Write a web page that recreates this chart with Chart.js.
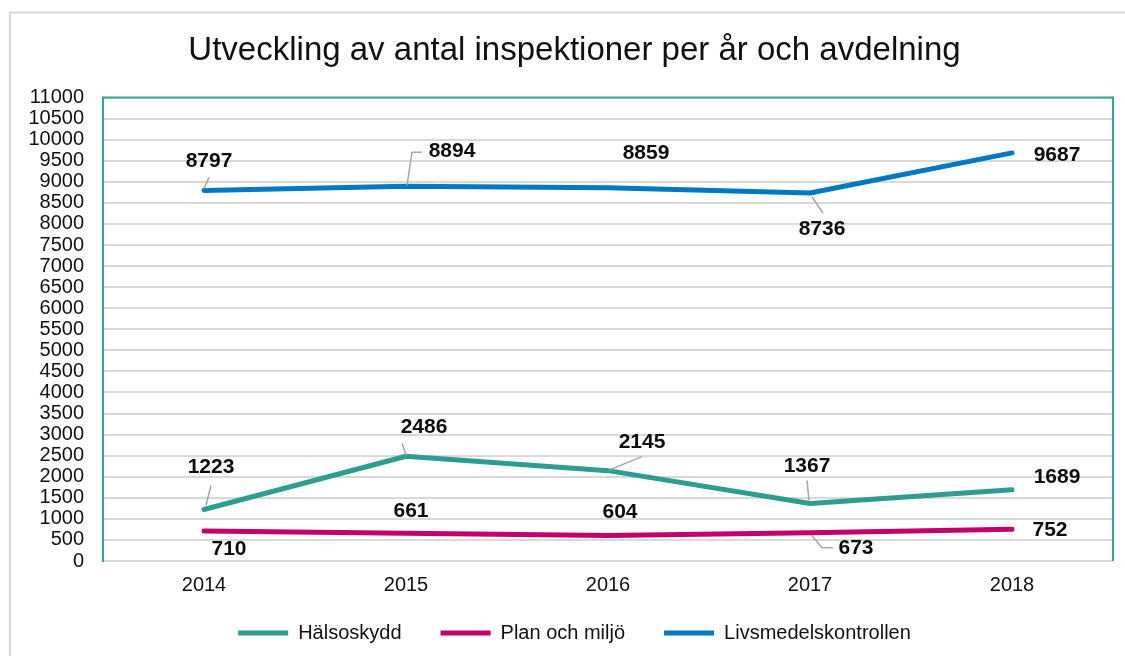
<!DOCTYPE html>
<html lang="sv">
<head>
<meta charset="utf-8">
<title>Utveckling av antal inspektioner per år och avdelning</title>
<script src="https://cdn.jsdelivr.net/npm/chart.js@4.4.1/dist/chart.umd.min.js"></script>
<style>
  html, body { margin: 0; padding: 0; background: #ffffff; }
  canvas { display: block; }
</style>
</head>
<body>
<canvas id="chart" width="1125" height="656"></canvas>
<script>
// Inspections per year and department
const years = ['2014', '2015', '2016', '2017', '2018'];
const halsoskydd = [1223, 2486, 2145, 1367, 1689];
const planOchMiljo = [710, 661, 604, 673, 752];
const livsmedel = [8797, 8894, 8859, 8736, 9687];
const seriesNames = ['Hälsoskydd', 'Plan och miljö', 'Livsmedelskontrollen'];
const yMin = 0, yMax = 11000, yStep = 500;

const TEAL = '#2E9D8F';
const MAGENTA = '#C4006B';
const BLUE = '#0079C2';
const FRAME = '#36A593';
const GRID = '#D9D9D9';
const FONT = '"Liberation Sans", Arial, Helvetica, sans-serif';

// Label placement: pixel offset of each value label from its point,
// plus an optional leader polyline (also as offsets from the point).
const labelStyle = [
  [ // Hälsoskydd
    { dx: 7,  dy: -42, lead: [[2, -4], [7, -24]] },
    { dx: 18, dy: -29, lead: [[0, -1], [-4, -13]] },
    { dx: 34, dy: -28, lead: [[2, -1], [34, -14]] },
    { dx: -3, dy: -37, lead: [[-1, -3], [-3, -23]] },
    { dx: 45, dy: -13 }
  ],
  [ // Plan och miljö
    { dx: 25, dy: 18 },
    { dx: 5,  dy: -22 },
    { dx: 12, dy: -23 },
    { dx: 46, dy: 16, lead: [[1, 2], [12, 15], [23, 15]] },
    { dx: 38, dy: 1 }
  ],
  [ // Livsmedelskontrollen
    { dx: 5,  dy: -29, lead: [[0, -2], [5, -13]] },
    { dx: 46, dy: -35, lead: [[1, -1], [6, -34], [16, -34]] },
    { dx: 38, dy: -35 },
    { dx: 12, dy: 36, lead: [[2, 4], [13, 20]] },
    { dx: 45, dy: 2 }
  ]
];

// Light grey frame around the whole chart
const outerFrame = {
  id: 'outerFrame',
  beforeDraw(chart) {
    const ctx = chart.ctx;
    ctx.save();
    ctx.fillStyle = '#ffffff';
    ctx.fillRect(0, 0, chart.width, chart.height);
    ctx.strokeStyle = GRID;
    ctx.lineWidth = 2;
    ctx.strokeRect(10, 12.5, chart.width + 50, chart.height + 50);
    ctx.restore();
  }
};

// Teal frame on the left, top and right of the plot area
const plotFrame = {
  id: 'plotFrame',
  beforeDatasetsDraw(chart) {
    const { ctx, chartArea: a } = chart;
    ctx.save();
    ctx.strokeStyle = FRAME;
    ctx.lineWidth = 2;
    ctx.beginPath();
    ctx.moveTo(a.left, a.bottom);
    ctx.lineTo(a.left, a.top);
    ctx.lineTo(a.right, a.top);
    ctx.lineTo(a.right, a.bottom);
    ctx.stroke();
    ctx.restore();
  }
};

// Value labels with grey leader lines
const valueLabels = {
  id: 'valueLabels',
  afterDatasetsDraw(chart) {
    const ctx = chart.ctx;
    ctx.save();
    chart.data.datasets.forEach((ds, di) => {
      const meta = chart.getDatasetMeta(di);
      meta.data.forEach((pt, i) => {
        const s = labelStyle[di][i];
        if (s.lead) {
          ctx.strokeStyle = '#A6A6A6';
          ctx.lineWidth = 1.5;
          ctx.beginPath();
          s.lead.forEach(([lx, ly], k) => {
            if (k === 0) ctx.moveTo(pt.x + lx, pt.y + ly);
            else ctx.lineTo(pt.x + lx, pt.y + ly);
          });
          ctx.stroke();
        }
        ctx.fillStyle = '#0D0D0D';
        ctx.font = 'bold 21px ' + FONT;
        ctx.textAlign = 'center';
        ctx.textBaseline = 'middle';
        ctx.fillText(String(ds.data[i]), pt.x + s.dx, pt.y + s.dy);
      });
    });
    ctx.restore();
  }
};

function lineSet(label, data, color) {
  return {
    label, data,
    borderColor: color,
    backgroundColor: color,
    borderWidth: 5,
    borderCapStyle: 'round',
    borderJoinStyle: 'round',
    pointRadius: 0,
    pointHoverRadius: 0,
    tension: 0,
    fill: false
  };
}

// Fixed axis box size; tick labels may extend past the box without clipping
function fixedSize(prop, size) {
  return function (scale) {
    scale[prop] = size;
    scale._computeLabelArea = () => undefined;
  };
}

new Chart(document.getElementById('chart'), {
  type: 'line',
  data: {
    labels: years,
    datasets: [
      lineSet(seriesNames[0], halsoskydd, TEAL),
      lineSet(seriesNames[1], planOchMiljo, MAGENTA),
      lineSet(seriesNames[2], livsmedel, BLUE)
    ]
  },
  options: {
    responsive: false,
    animation: false,
    layout: { padding: { left: 36, right: 12, top: 0, bottom: 3 } },
    plugins: {
      title: {
        display: true,
        text: 'Utveckling av antal inspektioner per år och avdelning',
        color: '#111111',
        font: { family: FONT, size: 33, weight: 'normal' },
        padding: { top: 31, bottom: 27 }
      },
      legend: {
        position: 'bottom',
        labels: {
          usePointStyle: true,
          pointStyle: 'line',
          pointStyleWidth: 50,
          padding: 39,
          color: '#111111',
          font: { family: FONT, size: 20 }
        }
      },
      tooltip: { enabled: false }
    },
    scales: {
      x: {
        offset: true,
        grid: { display: false, drawTicks: false },
        border: { display: false },
        ticks: {
          color: '#111111',
          padding: 12,
          font: { family: FONT, size: 20 }
        },
        afterFit: fixedSize('height', 23)
      },
      y: {
        min: yMin,
        max: yMax,
        grid: { color: GRID, lineWidth: 2, drawTicks: false },
        border: { display: true, color: FRAME, width: 2 },
        ticks: {
          stepSize: yStep,
          autoSkip: false,
          color: '#111111',
          padding: 19,
          font: { family: FONT, size: 20 },
          callback: (v) => String(v)
        },
        afterFit: fixedSize('width', 67)
      }
    }
  },
  plugins: [outerFrame, plotFrame, valueLabels]
});
</script>
</body>
</html>
